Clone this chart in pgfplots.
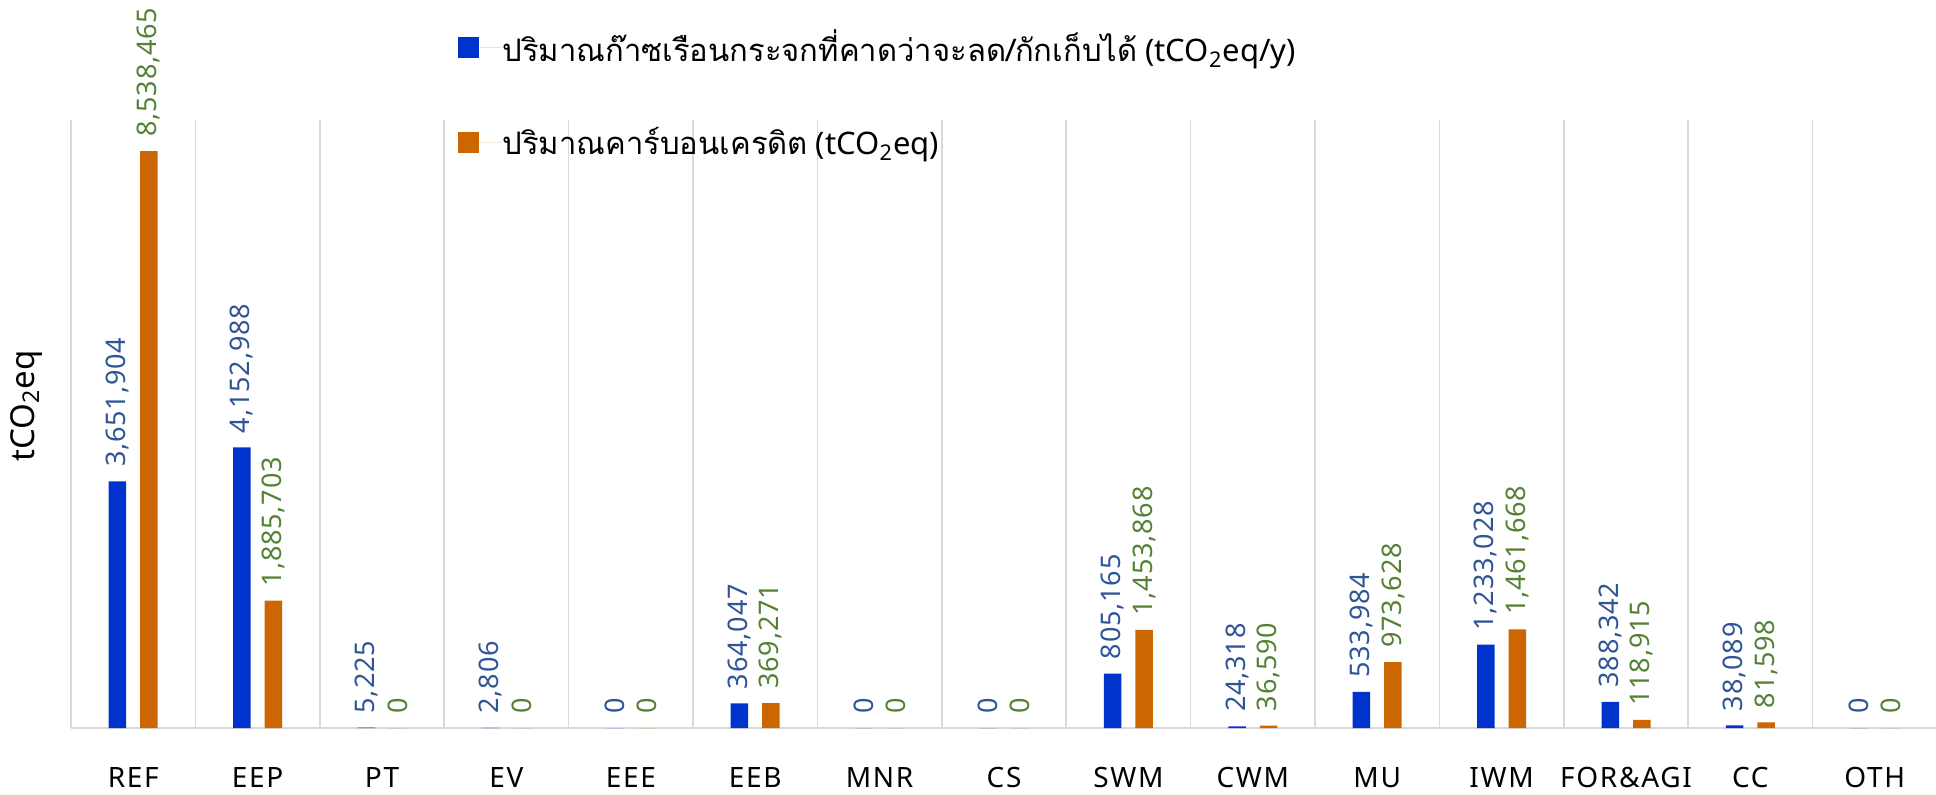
\documentclass[border=0pt]{standalone}
\usepackage{fontspec}
\setmainfont{Noto Sans}
\newfontfamily\thaifont[Script=Thai]{Loma}
\usepackage{pgfplots}
\pgfplotsset{compat=1.18}
\definecolor{bluebar}{HTML}{0033CC}
\definecolor{orangebar}{HTML}{CC6600}
\definecolor{bluelab}{HTML}{2F5597}
\definecolor{greenlab}{HTML}{548235}
\definecolor{gridc}{HTML}{D9D9D9}
\begin{document}
\begin{tikzpicture}
\path[use as bounding box] (0,0) rectangle (968pt,397pt);
\begin{axis}[
  at={(35.5pt,33pt)}, anchor=south west,
  scale only axis, width=933pt, height=304pt,
  ybar=7pt, bar width=8.75pt,
  xmin=-0.5, xmax=14.5, ymin=0, ymax=9000000,
  axis x line*=bottom, axis y line*=left,
  x axis line style={draw=gridc, line width=1pt, -},
  y axis line style={draw=none},
  xtick={0,...,14},
  xticklabels={REF,EEP,PT,EV,EEE,EEB,MNR,CS,SWM,CWM,MU,IWM,FOR\&AGI,CC,OTH},
  minor xtick={-0.5,0.5,...,14.5},
  xminorgrids, minor grid style={draw=gridc, line width=0.75pt},
  major tick length=0pt, minor tick length=0pt,
  ytick=\empty,
  xticklabel style={font=\fontsize{14}{16}\selectfont\addfontfeature{LetterSpace=6}, yshift=-16pt},
  ylabel={tCO\textsubscript{2}eq},
  every axis y label/.style={at={(axis description cs:-0.0115,0.53)}, rotate=90, anchor=south, font=\fontsize{16.5}{19}\selectfont},
  point meta=explicit symbolic,
  nodes near coords={\pgfplotspointmeta},
  every node near coord/.append style={rotate=90, anchor=west, inner sep=0pt, inner xsep=7pt, font=\fontsize{13.5}{16}\selectfont\addfontfeature{LetterSpace=3}},
  legend image code/.code={\fill[#1] (0pt,-5.25pt) rectangle (10.5pt,5.25pt); \path (0pt,0pt) -- (22pt,0pt);},
  legend style={at={(axis description cs:0.2074,1.043)}, anchor=west, draw=none, fill=none,
    inner sep=0pt, row sep=31.5pt, font=\fontsize{15.5}{18}\selectfont,
    legend cell align=left, nodes={inner sep=0pt}},
]
\addplot[fill=bluebar, draw=none, every node near coord/.append style={text=bluelab}] table[x=x, y=y, meta=lab] {
x y lab
0 3651904 3,651,904
1 4152988 4,152,988
2 5225 5,225
3 2806 2,806
4 0 0
5 364047 364,047
6 0 0
7 0 0
8 805165 805,165
9 24318 24,318
10 533984 533,984
11 1233028 1,233,028
12 388342 388,342
13 38089 38,089
14 0 0
};
\addlegendentry{{\thaifont ปริมาณก๊าซเรือนกระจกที่คาดว่าจะลด/กักเก็บได้} (tCO\textsubscript{2}eq/y)}
\addplot[fill=orangebar, draw=none, every node near coord/.append style={text=greenlab}] table[x=x, y=y, meta=lab] {
x y lab
0 8538465 8,538,465
1 1885703 1,885,703
2 0 0
3 0 0
4 0 0
5 369271 369,271
6 0 0
7 0 0
8 1453868 1,453,868
9 36590 36,590
10 973628 973,628
11 1461668 1,461,668
12 118915 118,915
13 81598 81,598
14 0 0
};
\addlegendentry{{\thaifont ปริมาณคาร์บอนเครดิต} (tCO\textsubscript{2}eq)}
\end{axis}
\end{tikzpicture}
\end{document}
